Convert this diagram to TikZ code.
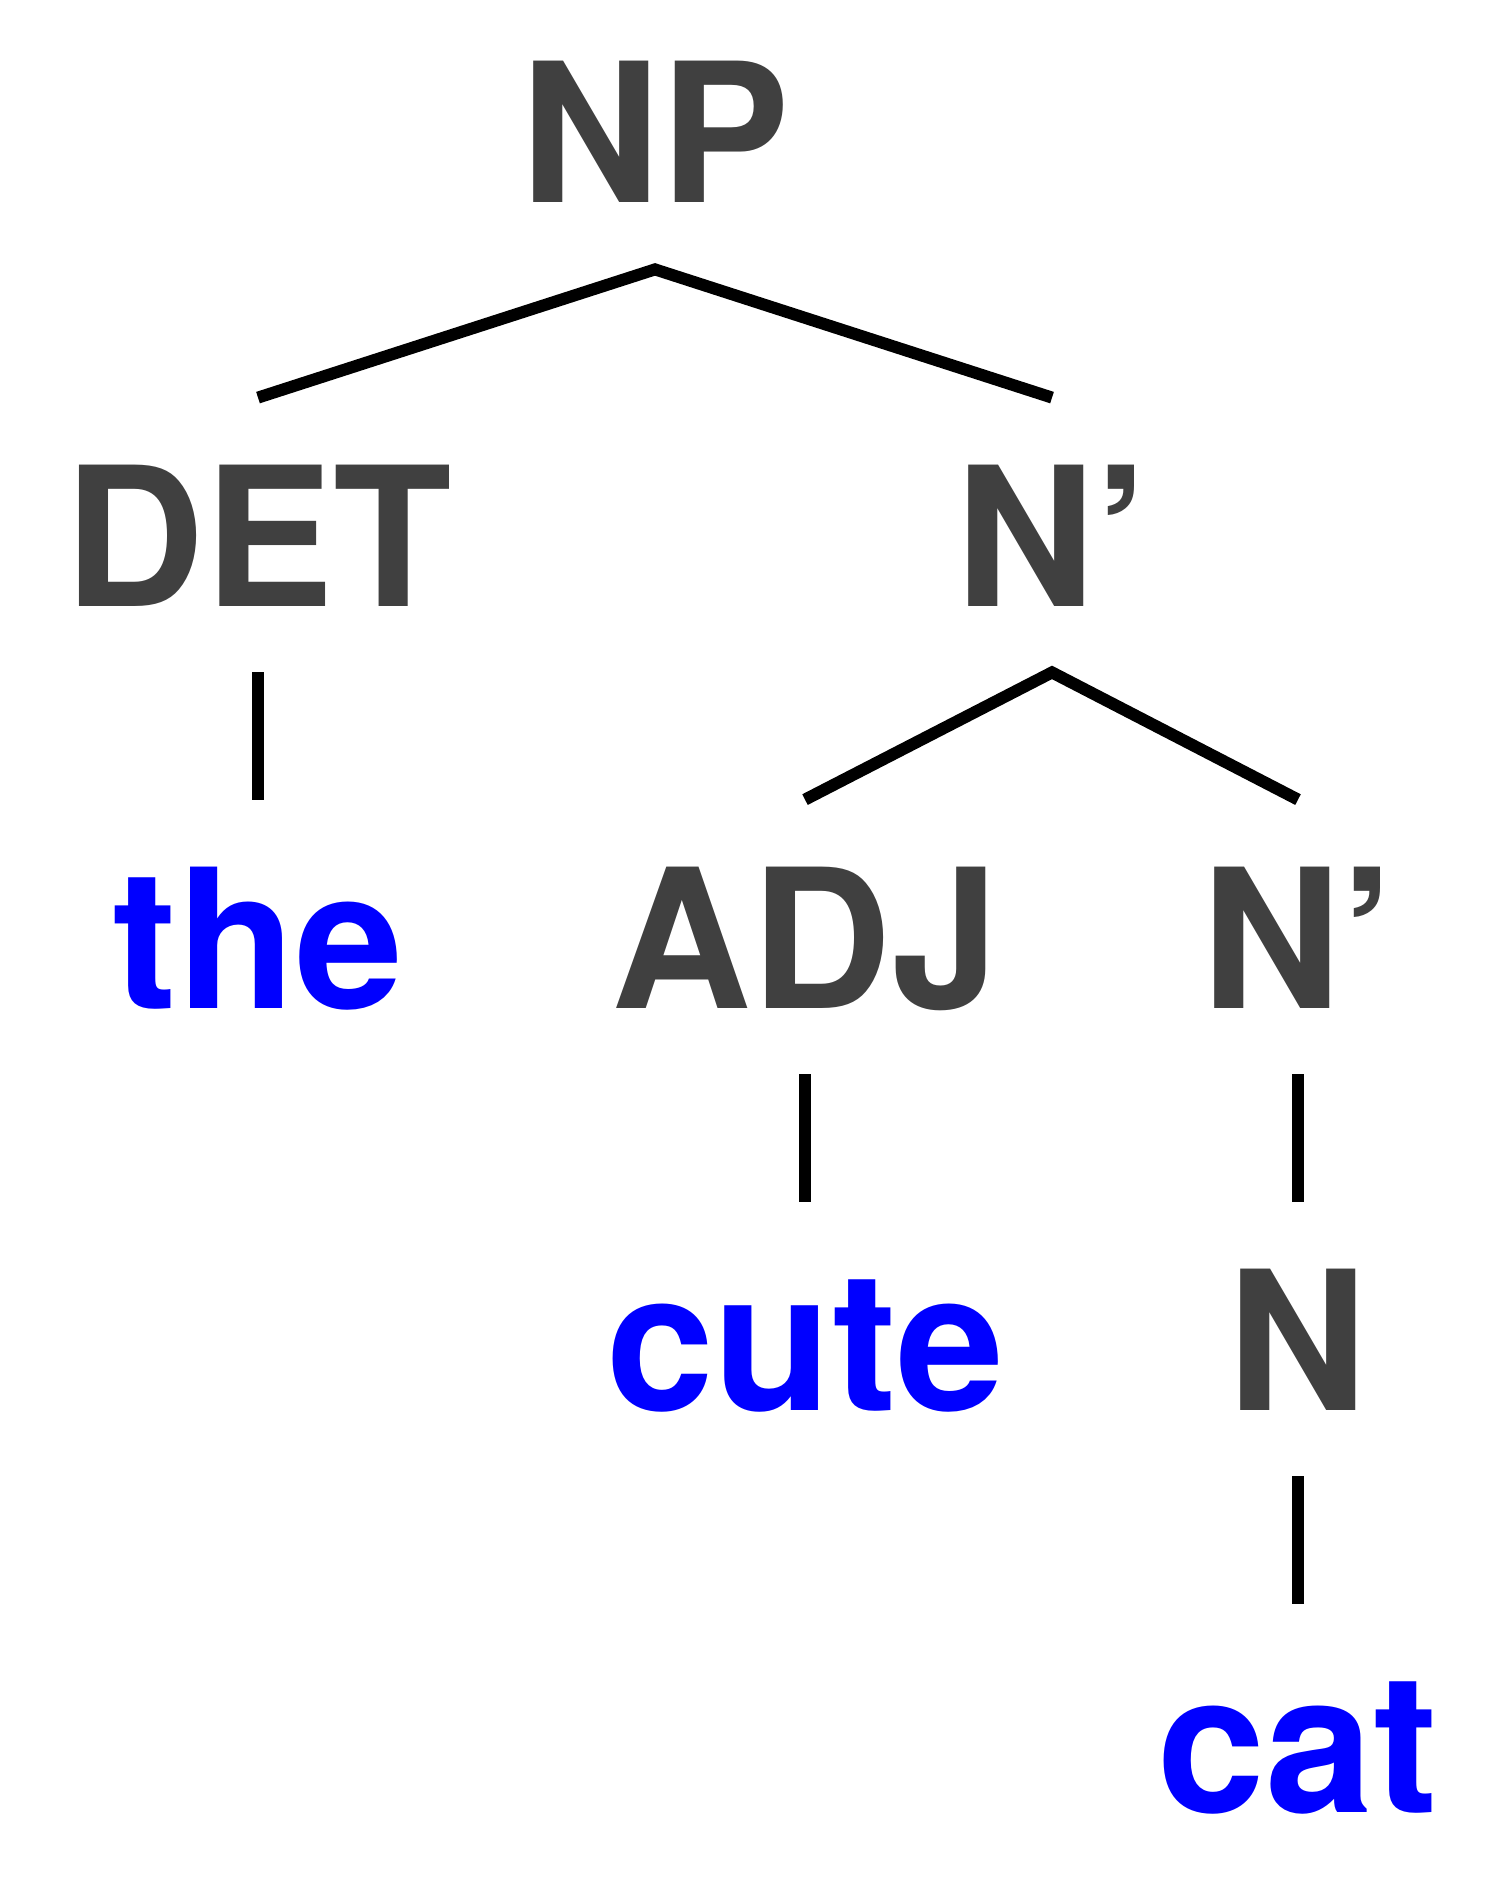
\documentclass[tikz,border=0pt]{standalone}
\usepackage{fontspec}
\setmainfont{TeX Gyre Heros}

\definecolor{labelgray}{RGB}{64,64,64}
\definecolor{wordblue}{RGB}{0,0,255}

\tikzset{
  catlabel/.style={anchor=base, inner sep=0pt, text height=104pt, text depth=33pt,
    font=\fontsize{97}{100}\selectfont\bfseries, text=labelgray},
  wordlabel/.style={catlabel, text=wordblue},
  branch/.style={line width=6pt, black}
}

\begin{document}
\begin{tikzpicture}[x=0.5pt,y=0.5pt,yscale=-1,xscale=1]
\useasboundingbox (0,0) rectangle (1500,1877);

% Text Node
\node [catlabel] (np) at (655,203) {NP};
% Text Node
\node [catlabel] (det) at (258,606) {DET};
% Text Node
\node [catlabel] (nbar) at (1052,606) {N’};
% Text Node
\node [wordlabel] (the) at (258,1008) {the};
% Text Node
\node [catlabel] (adj) at (805,1008) {ADJ};
% Text Node
\node [catlabel] (nbarlow) at (1298,1008) {N’};
% Text Node
\node [wordlabel] (cute) at (805,1410) {cute};
% Text Node
\node [catlabel] (n) at (1298,1410) {N};
% Text Node
\node [wordlabel] (catword) at (1298,1812) {cat};

%Straight Lines
\draw [branch] (det.north) -- (np.south) -- (nbar.north) ;
%Straight Lines
\draw [branch] (det.south) -- (the.north) ;
%Straight Lines
\draw [branch] (adj.north) -- (nbar.south) -- (nbarlow.north) ;
%Straight Lines
\draw [branch] (adj.south) -- (cute.north) ;
%Straight Lines
\draw [branch] (nbarlow.south) -- (n.north) ;
%Straight Lines
\draw [branch] (n.south) -- (catword.north) ;

\end{tikzpicture}
\end{document}
